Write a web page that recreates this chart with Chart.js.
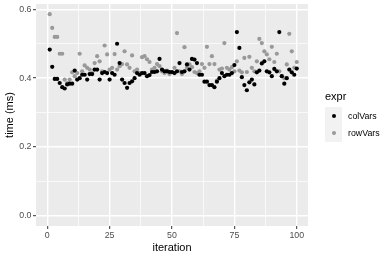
<!DOCTYPE html>
<html>
<head>
<meta charset="utf-8">
<script src="https://cdn.jsdelivr.net/npm/chart.js@4/dist/chart.umd.min.js"></script>
<style>
  body { margin: 0; background: #fff; }
  #wrap { position: relative; width: 390px; height: 260px; font-family: "Liberation Sans", Arial, sans-serif; }
  .leg { position: absolute; white-space: nowrap; }
  .key { position: absolute; width: 17.3px; height: 17.3px; background: #F2F2F2; }
  .dot { position: absolute; width: 4.2px; height: 4.2px; border-radius: 50%; left: 6.55px; top: 6.55px; }
</style>
</head>
<body>
<div id="wrap">
  <canvas id="c" width="390" height="260"></canvas>
  <div class="leg" style="left:325px; top:90px; font-size:11px; line-height:13px;">expr</div>
  <div class="key" style="left:325px; top:107px;"><div class="dot" style="background:#000;"></div></div>
  <div class="key" style="left:325px; top:124.3px;"><div class="dot" style="background:#999;"></div></div>
  <div class="leg" style="left:348px; top:109.5px; font-size:8.8px; line-height:12px;">colVars</div>
  <div class="leg" style="left:348px; top:126.8px; font-size:8.8px; line-height:12px;">rowVars</div>
</div>
<script>
// iterations 1..100
let iteration = Array.from({length: 100}, (_, i) => i + 1);

// time (ms)
let colVars = [
    0.483, 0.433, 0.398, 0.398, 0.386, 0.374, 0.370, 0.382, 0.384, 0.384,
    0.422, 0.396, 0.400, 0.410, 0.410, 0.396, 0.412, 0.412, 0.425, 0.425,
    0.396, 0.415, 0.418, 0.415, 0.396, 0.415, 0.410, 0.500, 0.444, 0.396,
    0.386, 0.372, 0.386, 0.391, 0.400, 0.415, 0.410, 0.415, 0.415, 0.406,
    0.409, 0.418, 0.418, 0.420, 0.456, 0.425, 0.420, 0.420, 0.418, 0.418,
    0.415, 0.420, 0.444, 0.418, 0.420, 0.440, 0.425, 0.456, 0.454, 0.444,
    0.410, 0.410, 0.390, 0.390, 0.380, 0.380, 0.374, 0.390, 0.400, 0.415,
    0.406, 0.410, 0.410, 0.415, 0.438, 0.534, 0.488, 0.403, 0.380, 0.365,
    0.388, 0.396, 0.382, 0.417, 0.422, 0.443, 0.449, 0.420, 0.417, 0.406,
    0.427, 0.420, 0.534, 0.406, 0.384, 0.400, 0.425, 0.417, 0.410, 0.428
];

let rowVars = [
    0.586, 0.546, 0.520, 0.520, 0.471, 0.471, 0.396, 0.386, 0.396, 0.417,
    0.406, 0.415, 0.471, 0.420, 0.437, 0.430, 0.425, 0.415, 0.444, 0.464,
    0.449, 0.420, 0.495, 0.469, 0.425, 0.430, 0.470, 0.425, 0.435, 0.441,
    0.478, 0.440, 0.430, 0.466, 0.420, 0.425, 0.415, 0.461, 0.464, 0.455,
    0.447, 0.425, 0.430, 0.441, 0.435, 0.420, 0.415, 0.422, 0.412, 0.417,
    0.430, 0.531, 0.420, 0.412, 0.490, 0.430, 0.440, 0.432, 0.418, 0.415,
    0.420, 0.441, 0.430, 0.491, 0.441, 0.464, 0.441, 0.393, 0.425, 0.428,
    0.502, 0.430, 0.425, 0.432, 0.420, 0.449, 0.422, 0.417, 0.459, 0.418,
    0.462, 0.430, 0.420, 0.449, 0.514, 0.502, 0.478, 0.469, 0.455, 0.491,
    0.447, 0.471, 0.420, 0.406, 0.400, 0.440, 0.529, 0.478, 0.430, 0.447
];

let xMajor = [0, 25, 50, 75, 100];
let xMinor = [12.5, 37.5, 62.5, 87.5];
let yMajor = [0, 0.2, 0.4, 0.6];
let yMinor = [0.1, 0.3, 0.5];

function pts(ys) {
    return ys.map((y, i) => ({x: iteration[i], y: y}));
}

function isMajor(list, v) {
    return list.some(m => Math.abs(m - v) < 1e-9);
}

Chart.defaults.font.family = '"Liberation Sans", Arial, sans-serif';

const panelBg = {
    id: 'panelBg',
    beforeDraw(chart) {
        const a = chart.chartArea, ctx = chart.ctx;
        ctx.save();
        ctx.fillStyle = '#EBEBEB';
        ctx.fillRect(a.left, a.top, a.right - a.left, a.bottom - a.top);
        ctx.restore();
    }
};

new Chart(document.getElementById('c'), {
    type: 'scatter',
    data: {
        datasets: [
            {label: 'colVars', data: pts(colVars), backgroundColor: '#000', borderWidth: 0, pointRadius: 2.1},
            {label: 'rowVars', data: pts(rowVars), backgroundColor: '#999', borderWidth: 0, pointRadius: 2.1}
        ]
    },
    options: {
        responsive: false,
        animation: false,
        layout: {padding: {top: 2, right: 82, left: 0, bottom: 0}},
        plugins: {legend: {display: false}, tooltip: {enabled: false}},
        scales: {
            x: {
                type: 'linear',
                min: -4.5, max: 104.5,
                afterBuildTicks(s) { s.ticks = xMinor.concat(xMajor).sort((a, b) => a - b).map(v => ({value: v})); },
                afterFit(s) { s.height = 34; s.paddingLeft = 0; s.paddingRight = 0; },
                border: {display: false},
                grid: {
                    color: '#fff',
                    lineWidth: c => isMajor(xMajor, c.tick.value) ? 1.4 : 0.7,
                    tickColor: c => isMajor(xMajor, c.tick.value) ? '#333' : 'rgba(0,0,0,0)',
                    tickWidth: 1,
                    tickLength: 3
                },
                ticks: {
                    autoSkip: false, maxRotation: 0, padding: 1,
                    color: '#4D4D4D', font: {size: 8.8},
                    callback: v => isMajor(xMajor, v) ? String(v) : ''
                },
                title: {display: true, text: 'iteration', color: '#000', font: {size: 11}, padding: {top: 0, bottom: 5}}
            },
            y: {
                type: 'linear',
                min: -0.0293, max: 0.6155,
                afterBuildTicks(s) { s.ticks = yMinor.concat(yMajor).sort((a, b) => a - b).map(v => ({value: v})); },
                afterFit(s) { s.width = 36; s.paddingTop = 0; s.paddingBottom = 0; },
                border: {display: false},
                grid: {
                    color: '#fff',
                    lineWidth: c => isMajor(yMajor, c.tick.value) ? 1.4 : 0.7,
                    tickColor: c => isMajor(yMajor, c.tick.value) ? '#333' : 'rgba(0,0,0,0)',
                    tickWidth: 1,
                    tickLength: 3
                },
                ticks: {
                    autoSkip: false, padding: 1.5,
                    color: '#4D4D4D', font: {size: 8.8},
                    callback: v => isMajor(yMajor, v) ? v.toFixed(1) : ''
                },
                title: {display: true, text: 'time (ms)', color: '#000', font: {size: 11}, padding: {top: 3, bottom: 0}}
            }
        }
    },
    plugins: [panelBg]
});
</script>
</body>
</html>
